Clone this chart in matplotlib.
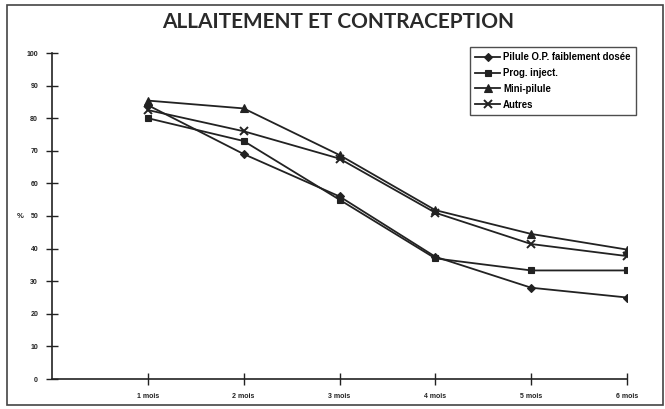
import numpy as np
import matplotlib.pyplot as plt
from matplotlib.patches import Rectangle

# data
mois = [1, 2, 3, 4, 5, 6]
mois_labels = ['1 mois', '2 mois', '3 mois', '4 mois', '5 mois', '6 mois']
pilule_op = [84, 69, 56, 37.5, 28, 25]
prog_inject = [80, 73, 55, 37, 33.3, 33.3]
mini_pilule = [85.4, 83, 68.7, 51.8, 44.5, 39.7]
autres = [82.5, 76, 67.6, 51, 41.4, 37.7]

series = [
    ('Pilule O.P. faiblement dosée', pilule_op, 'D', 4.5),
    ('Prog. inject.', prog_inject, 's', 5),
    ('Mini-pilule', mini_pilule, '^', 5.5),
    ('Autres', autres, 'x', 6),
]

ink = '#222222'
plt.rcParams['font.family'] = ['Liberation Sans', 'DejaVu Sans']

fig = plt.figure(figsize=(6.65, 4.09), dpi=100)
ax = fig.add_axes([52 / 665, 30 / 409, 575 / 665, 326 / 409])

for name, vals, mk, ms in series:
    ax.plot(mois, vals, color=ink, lw=1.3, marker=mk, ms=ms,
            mew=1.4 if mk == 'x' else 0.8, label=name)

ax.set_xlim(0, 6)
ax.set_ylim(0, 100)
ax.set_yticks(np.arange(0, 101, 10))
ax.set_xticks(mois)
ax.set_xticklabels(mois_labels)
ax.tick_params(direction='inout', length=8, width=1, colors=ink,
               labelsize=5, pad=6)
for lab in ax.get_xticklabels() + ax.get_yticklabels():
    lab.set_fontweight('bold')
ax.spines['top'].set_visible(False)
ax.spines['right'].set_visible(False)
for s in ['left', 'bottom']:
    ax.spines[s].set_color(ink)
    ax.spines[s].set_linewidth(1.2)

fig.text(17 / 665, 1 - 217 / 409, '%', fontsize=5.5, fontweight='bold',
         ha='left', va='center', color=ink)

fig.text(338 / 665, 1 - 22 / 409, 'ALLAITEMENT ET CONTRACEPTION',
         fontsize=15, fontweight='bold', family='Lato',
         ha='center', va='center', color='#2a2a2a')

leg = ax.legend(loc='upper right', bbox_to_anchor=(636 / 665, 1 - 47 / 409),
                bbox_transform=fig.transFigure, frameon=True, fancybox=False,
                prop={'weight': 'bold', 'size': 6.9}, handlelength=2.6,
                handletextpad=0.3, borderpad=0.55, labelspacing=0.6,
                borderaxespad=0)
leg.get_frame().set_edgecolor(ink)
leg.get_frame().set_linewidth(1.0)

# outer frame around the chart
fig.patches.append(Rectangle((7 / 665, 4 / 409), 656 / 665, 400 / 409,
                             transform=fig.transFigure, fill=False,
                             edgecolor='#444444', lw=1.2))

fig.savefig('out.png', dpi=100)
